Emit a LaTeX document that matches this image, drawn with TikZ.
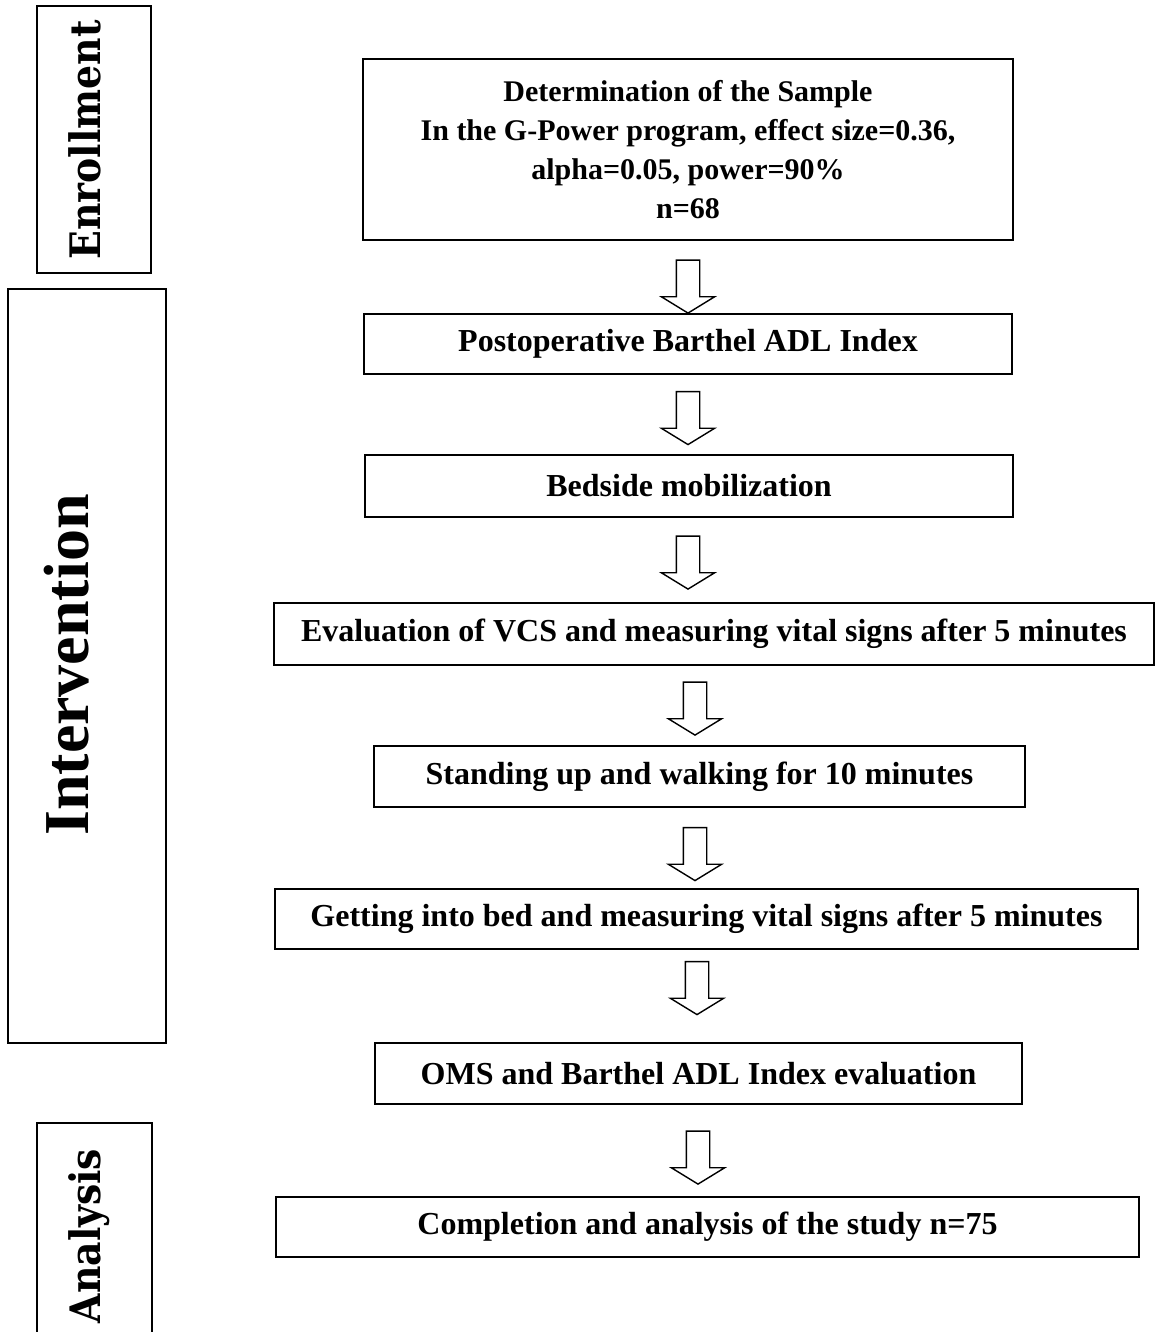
\documentclass[tikz,border=0pt]{standalone}
\usepackage{fontspec}
\setmainfont{Liberation Serif}
\newfontfamily\phasefont{DejaVu Serif}
\usetikzlibrary{shapes.arrows}

\begin{document}
\begin{tikzpicture}[
  x=1pt,y=-1pt,
  stepbox/.style={draw,line width=1.8pt,inner sep=0pt,align=center,
    font=\fontsize{32}{38}\selectfont\bfseries},
  phase/.style={draw,line width=1.6pt,inner sep=0pt},
  phaselab/.style={rotate=90,anchor=base,inner sep=0pt},
  blockarrow/.style={single arrow,draw,line width=1.4pt,shape border rotate=270,
    minimum height=53pt,single arrow head extend=15pt,
    single arrow tip angle=117,inner sep=11pt}
]
\useasboundingbox (0,0) rectangle (1159,1332);
\clip (0,0) rectangle (1159,1332);
% phases on the left
\node[phase,minimum width=114pt,minimum height=267pt] (enr) at (94,139.5) {};
\node[phase,minimum width=158pt,minimum height=754pt] (int) at (87,666) {};
\node[phase,minimum width=115pt,minimum height=237pt] (ana) at (94.5,1241.5) {};
\node[phaselab] (enrlab) at (100,140) {\scalebox{0.9}[1]{\phasefont\fontsize{42}{42}\selectfont\bfseries Enrollment}};
\node[phaselab] (intlab) at (88,665) {\fontsize{64}{64}\selectfont\bfseries Intervention};
\node[phaselab] (analab) at (100,1236) {\scalebox{0.9}[1]{\phasefont\fontsize{42}{42}\selectfont\bfseries Analysis}};
% steps
\node[stepbox,minimum width=650pt,minimum height=181pt,
  font=\fontsize{30}{39}\selectfont\bfseries] (sample) at (688,149.5)
  {Determination of the Sample\\In the G-Power program, effect size=0.36,\\alpha=0.05, power=90\%\\n=68};
\node[stepbox,minimum width=648pt,minimum height=60pt] (post) at (688,344) {Postoperative Barthel ADL Index};
\node[stepbox,minimum width=648pt,minimum height=62pt] (bed) at (689,486) {Bedside mobilization};
\node[stepbox,minimum width=880pt,minimum height=62pt] (eval) at (714,634) {Evaluation of VCS and measuring vital signs after 5 minutes};
\node[stepbox,minimum width=651pt,minimum height=61pt] (stand) at (699.5,776.5) {Standing up and walking for 10 minutes};
\node[stepbox,minimum width=863pt,minimum height=60pt] (getbed) at (706.5,919) {Getting into bed and measuring vital signs after 5 minutes};
\node[stepbox,minimum width=647pt,minimum height=61pt] (oms) at (698.5,1073.5) {OMS and Barthel ADL Index evaluation};
\node[stepbox,minimum width=863pt,minimum height=60pt] (compl) at (707.5,1227) {Completion and analysis of the study n=75};
% arrows between steps
\node[blockarrow] (arr1) at (688,283) {};
\node[blockarrow] (arr2) at (688,414.5) {};
\node[blockarrow] (arr3) at (688,559) {};
\node[blockarrow] (arr4) at (695,705) {};
\node[blockarrow] (arr5) at (695,850.5) {};
\node[blockarrow] (arr6) at (697,984.5) {};
\node[blockarrow] (arr7) at (698,1154) {};
\end{tikzpicture}
\end{document}
